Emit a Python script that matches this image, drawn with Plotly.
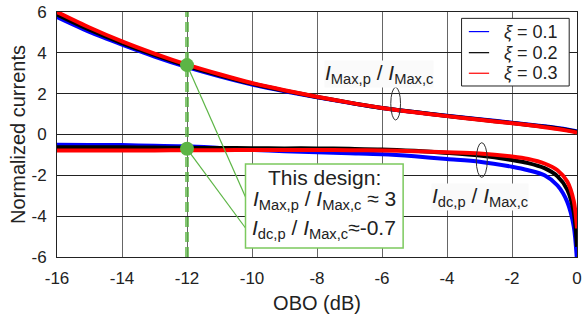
import plotly.graph_objects as go

# ---------------- data ----------------
obo = [-16, -15, -14, -13, -12, -11, -10, -9, -8, -7, -6, -5, -4, -3, -2, -1.5, -1, -0.6, -0.3, -0.1, 0]

imax_01 = [5.75, 5.02, 4.40, 3.82, 3.30, 2.85, 2.45, 2.12, 1.82, 1.55, 1.30, 1.10, 0.92, 0.75, 0.58, 0.49, 0.40, 0.32, 0.25, 0.19, 0.15]
imax_02 = [5.88, 5.13, 4.48, 3.90, 3.36, 2.90, 2.49, 2.15, 1.84, 1.56, 1.30, 1.10, 0.91, 0.73, 0.56, 0.47, 0.38, 0.30, 0.22, 0.16, 0.12]
imax_03 = [6.00, 5.24, 4.56, 3.96, 3.42, 2.95, 2.52, 2.17, 1.85, 1.56, 1.30, 1.09, 0.90, 0.72, 0.55, 0.46, 0.36, 0.27, 0.19, 0.13, 0.09]

idc_01 = [-0.50, -0.51, -0.52, -0.55, -0.58, -0.66, -0.75, -0.82, -0.87, -0.92, -0.97, -1.07, -1.20, -1.33, -1.58, -1.75, -2.00, -2.50, -3.30, -4.50, -6.20]
idc_02 = [-0.62, -0.62, -0.63, -0.64, -0.65, -0.66, -0.67, -0.68, -0.68, -0.70, -0.73, -0.80, -0.90, -1.03, -1.25, -1.40, -1.65, -2.05, -2.70, -3.80, -5.50]
idc_03 = [-0.78, -0.78, -0.78, -0.78, -0.77, -0.77, -0.76, -0.76, -0.76, -0.77, -0.78, -0.82, -0.87, -0.93, -1.08, -1.20, -1.42, -1.75, -2.30, -3.25, -4.60]

xi_labels = ["0.1", "0.2", "0.3"]
colors = ["#0000ff", "#000000", "#ff0000"]

design_obo = -12
design_vals = [3.4, -0.7]

x_ticks = [-16, -14, -12, -10, -8, -6, -4, -2, 0]
y_ticks = [-6, -4, -2, 0, 2, 4, 6]

green = "#5cb545"
FONT = "Liberation Sans, Arial, sans-serif"
TXT = "#222"

fig = go.Figure()

upper = [imax_01, imax_02, imax_03]
lower = [idc_01, idc_02, idc_03]

# vertical dashed design line
fig.add_trace(go.Scatter(x=[design_obo, design_obo], y=[-6, 6], mode="lines",
                         line=dict(color=green, width=4, dash="10px,5px"),
                         opacity=0.75, showlegend=False, hoverinfo="skip"))

for i in range(3):
    name = "ξ = " + xi_labels[i]
    fig.add_trace(go.Scatter(x=obo, y=upper[i], mode="lines", name=name,
                             line=dict(color=colors[i], width=4, shape="spline", smoothing=0.8),
                             showlegend=False))
    fig.add_trace(go.Scatter(x=obo, y=lower[i], mode="lines", name=name,
                             line=dict(color=colors[i], width=4, shape="spline", smoothing=0.8),
                             showlegend=False))

# leader lines from design markers to the box
box_x0, box_x1, box_y0, box_y1 = -10.2, -5.35, -5.56, -1.45
leader_y = [-3.06, -4.58]
for v, ly in zip(design_vals, leader_y):
    fig.add_shape(type="line", x0=design_obo, y0=v, x1=box_x0, y1=ly,
                  line=dict(color=green, width=1.2), layer="above")

# design markers
fig.add_trace(go.Scatter(x=[design_obo, design_obo], y=design_vals, mode="markers",
                         marker=dict(color=green, size=14), showlegend=False, cliponaxis=False))

# annotation box
fig.add_shape(type="rect", x0=box_x0, x1=box_x1, y0=box_y0, y1=box_y1,
              line=dict(color="#7cc95e", width=1.5), fillcolor="white", layer="above")
box_lines = ["This design:",
             "<i>I</i><sub>Max,p</sub> / <i>I</i><sub>Max,c</sub> ≈ 3",
             "<i>I</i><sub>dc,p</sub> / <i>I</i><sub>Max,c</sub>≈-0.7"]
box_line_y = [-2.13, -3.21, -4.63]
xc = (box_x0 + box_x1) / 2
for t, yy in zip(box_lines, box_line_y):
    fig.add_annotation(x=xc, y=yy, xref="x", yref="y", text=t, showarrow=False,
                       xanchor="center", yanchor="middle",
                       font=dict(size=21, color=TXT, family=FONT))

# ellipses
fig.add_shape(type="circle", x0=-5.73, x1=-5.43, y0=0.71, y1=2.31,
              line=dict(color="#333", width=1), layer="above")
fig.add_shape(type="circle", x0=-3.10, x1=-2.76, y0=-2.10, y1=-0.40,
              line=dict(color="#333", width=1), layer="above")

# curve labels
fig.add_annotation(x=-6.09, y=2.95, xref="x", yref="y",
                   text="<i>I</i><sub>Max,p</sub> / <i>I</i><sub>Max,c</sub>",
                   showarrow=False, bgcolor="rgba(250,250,250,1)", borderpad=0,
                   xanchor="center", yanchor="middle",
                   font=dict(size=21, color=TXT, family=FONT))
fig.add_annotation(x=-2.97, y=-3.06, xref="x", yref="y",
                   text="<i>I</i><sub>dc,p</sub> / <i>I</i><sub>Max,c</sub>",
                   showarrow=False, bgcolor="rgba(250,250,250,1)", borderpad=0,
                   xanchor="center", yanchor="middle",
                   font=dict(size=21, color=TXT, family=FONT))

# legend (drawn in paper coordinates)
fig.add_shape(type="rect", xref="paper", yref="paper", x0=0.778, x1=0.985, y0=0.698, y1=0.974,
              line=dict(color=TXT, width=1), fillcolor="white", layer="above")
leg_y = [0.920, 0.834, 0.750]
for i in range(3):
    fig.add_shape(type="line", xref="paper", yref="paper", x0=0.792, x1=0.831,
                  y0=leg_y[i], y1=leg_y[i], line=dict(color=colors[i], width=1.2), layer="above")
    fig.add_annotation(xref="paper", yref="paper", x=0.968, y=leg_y[i],
                       xanchor="right", yanchor="middle",
                       text="<i>ξ</i> = " + xi_labels[i], showarrow=False,
                       font=dict(size=18, color=TXT, family=FONT))

fig.update_layout(
    width=583, height=320,
    margin=dict(l=57, r=6, t=12, b=63),
    paper_bgcolor="white", plot_bgcolor="white",
    font=dict(family=FONT, color=TXT),
    showlegend=False,
    xaxis=dict(range=[-16, 0], tickvals=x_ticks, ticktext=[str(t) for t in x_ticks],
               automargin=False,
               showgrid=True, gridcolor="#666", gridwidth=1, zeroline=False,
               showline=True, linecolor=TXT, linewidth=1, mirror=True,
               ticks="", tickfont=dict(size=17, color=TXT), ticklabelstandoff=6,
               title=dict(text="OBO (dB)", font=dict(size=20, color=TXT), standoff=8)),
    yaxis=dict(range=[-6, 6], tickvals=y_ticks, ticktext=[str(t) for t in y_ticks],
               automargin=False,
               showgrid=True, gridcolor=TXT, gridwidth=1, zeroline=False,
               showline=True, linecolor=TXT, linewidth=1, mirror=True,
               ticks="", tickfont=dict(size=17, color=TXT), ticklabelstandoff=6,
               title=dict(text="Normalized currents", font=dict(size=20, color=TXT), standoff=0)),
)

fig.write_html("out.html")
